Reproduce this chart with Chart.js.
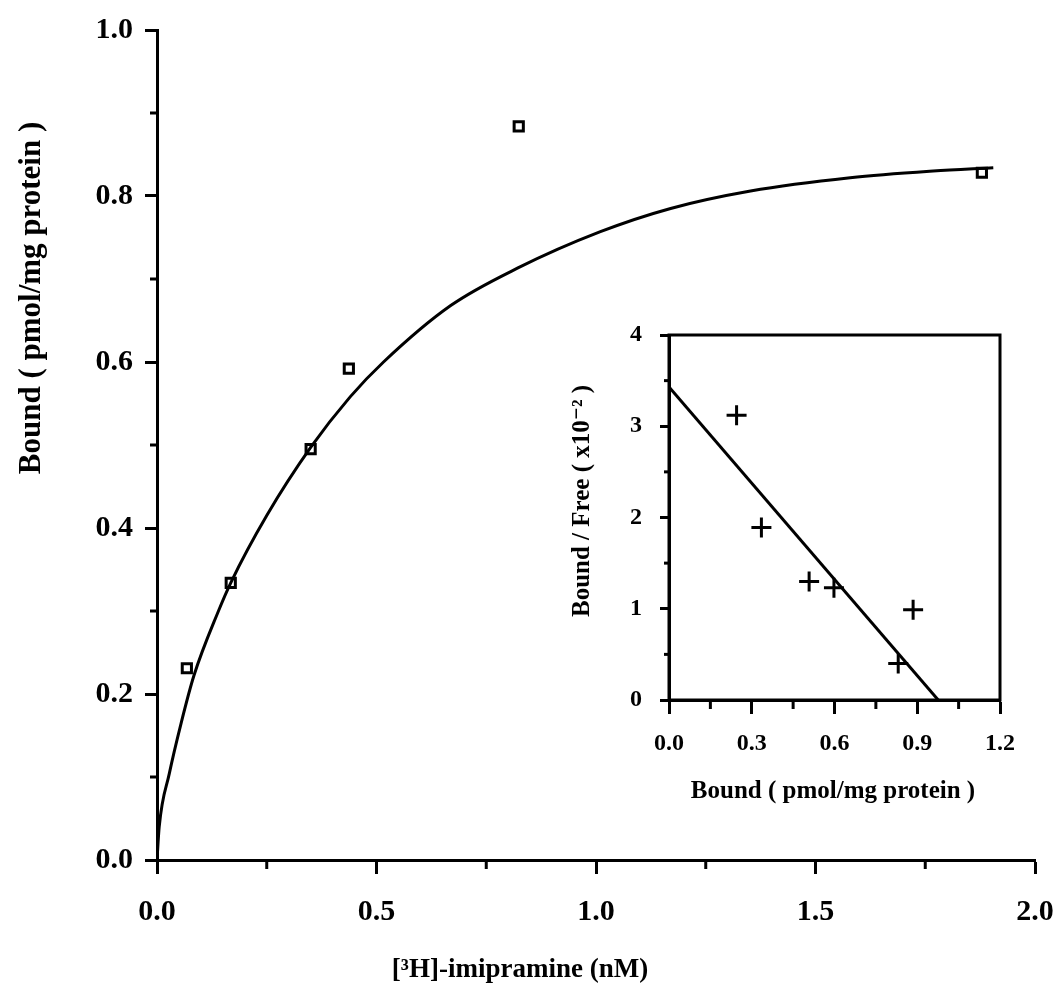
<!DOCTYPE html>
<html>
<head>
<meta charset="utf-8">
<script src="https://cdn.jsdelivr.net/npm/chart.js@4.4.0/dist/chart.umd.min.js"></script>
<style>
    html, body { margin: 0; padding: 0; background: #fff; overflow: hidden; }
    #wrap { position: relative; width: 1056px; height: 1002px; }
    #main-chart { position: absolute; left: 0; top: 0; }
    #inset-chart { position: absolute; left: 540px; top: 300px; }
</style>
</head>
<body>
<div id="wrap">
    <canvas id="main-chart" width="1090" height="1002"></canvas>
    <canvas id="inset-chart" width="500" height="520"></canvas>
</div>
<script>
// saturation binding: measured points
const bindX = [0.068, 0.168, 0.35, 0.437, 0.824, 1.879];
const bindY = [0.231, 0.334, 0.495, 0.592, 0.884, 0.828];

// fitted curve
const fitX = [0, 0.005, 0.028, 0.055, 0.084, 0.14, 0.168, 0.25, 0.35, 0.44, 0.516, 0.669, 0.821, 1.01, 1.17, 1.352, 1.579, 1.768, 1.905];
const fitY = [0, 0.04, 0.104, 0.165, 0.222, 0.3, 0.334, 0.415, 0.497, 0.558, 0.6, 0.668, 0.713, 0.757, 0.785, 0.806, 0.822, 0.83, 0.834];

// scatchard inset
const scatX = [0.245, 0.335, 0.508, 0.598, 0.831, 0.885];
const scatY = [3.12, 1.89, 1.3, 1.23, 0.4, 0.99];
const scatLineX = [0, 0.976];
const scatLineY = [3.43, 0];

// minor tick positions
const mainMinorX = [0.25, 0.75, 1.25, 1.75];
const mainMinorY = [0.1, 0.3, 0.5, 0.7, 0.9];
const insetMinorX = [0.15, 0.45, 0.75, 1.05];
const insetMinorY = [0.5, 1.5, 2.5, 3.5];

const serif = "'Liberation Serif', 'Times New Roman', 'DejaVu Serif', serif";
const toXY = (xs, ys) => xs.map((x, i) => ({ x: x, y: ys[i] }));

// short outward ticks between the labelled ones
const minorTicks = {
    id: "minorTicks",
    afterDraw(chart, args, opts) {
        const { ctx, chartArea } = chart;
        const xs = chart.scales.x;
        const ys = chart.scales.y;
        ctx.save();
        ctx.strokeStyle = "#000";
        ctx.lineWidth = opts.width;
        opts.x.forEach((v) => {
            const px = xs.getPixelForValue(v);
            ctx.beginPath();
            ctx.moveTo(px, chartArea.bottom);
            ctx.lineTo(px, chartArea.bottom + opts.lenX);
            ctx.stroke();
        });
        opts.y.forEach((v) => {
            const py = ys.getPixelForValue(v);
            ctx.beginPath();
            ctx.moveTo(chartArea.left, py);
            ctx.lineTo(chartArea.left - opts.lenY, py);
            ctx.stroke();
        });
        if (opts.frame) {
            ctx.lineWidth = 3;
            ctx.strokeRect(chartArea.left, chartArea.top, chartArea.right - chartArea.left, chartArea.bottom - chartArea.top);
        }
        ctx.restore();
    },
};

// axis titles placed where they sit in the figure
const axisText = {
    id: "axisText",
    afterDraw(chart, args, opts) {
        const ctx = chart.ctx;
        opts.items.forEach((t) => {
            ctx.save();
            ctx.translate(t.x, t.y);
            ctx.rotate(t.rotate || 0);
            ctx.font = t.font;
            ctx.fillStyle = "#000";
            ctx.textAlign = "center";
            ctx.textBaseline = "middle";
            ctx.fillText(t.text, 0, 0);
            ctx.restore();
        });
    },
};

const axisCommon = (size, tickLen) => ({
    border: { display: true, color: "#000", width: 3 },
    grid: {
        drawOnChartArea: false,
        drawTicks: true,
        tickLength: tickLen,
        tickWidth: 3,
        tickColor: "#000",
    },
    ticks: {
        color: "#000",
        font: { family: serif, size: size, weight: "bold" },
        maxRotation: 0,
    },
});

// main chart
const mainCtx = document.getElementById("main-chart");
const mainX = axisCommon(30, 14);
mainX.min = 0;
mainX.max = 2;
mainX.ticks.stepSize = 0.5;
mainX.ticks.padding = 20;
mainX.ticks.callback = (v) => v.toFixed(1);
mainX.afterFit = (scale) => { scale.height = 142; };

const mainY = axisCommon(30, 12);
mainY.min = 0;
mainY.max = 1;
mainY.ticks.stepSize = 0.2;
mainY.ticks.padding = 12;
mainY.ticks.callback = (v) => v.toFixed(1);
mainY.afterFit = (scale) => { scale.width = 157; };

new Chart(mainCtx, {
    type: "scatter",
    data: {
        datasets: [
            {
                label: "fit",
                data: toXY(fitX, fitY),
                showLine: true,
                borderColor: "#000",
                borderWidth: 3,
                pointRadius: 0,
                cubicInterpolationMode: "monotone",
                fill: false,
            },
            {
                label: "bound",
                data: toXY(bindX, bindY),
                pointStyle: "rect",
                pointRadius: 6.5,
                pointBorderWidth: 3,
                borderColor: "#000",
                backgroundColor: "#fff",
            },
        ],
    },
    options: {
        responsive: false,
        animation: false,
        layout: { padding: { top: 25, right: 55, bottom: 0, left: 0 } },
        plugins: {
            legend: { display: false },
            tooltip: { enabled: false },
            minorTicks: { x: mainMinorX, y: mainMinorY, lenX: 9, lenY: 7, width: 3, frame: false },
            axisText: {
                items: [
                    { text: "[³H]-imipramine (nM)", x: 520, y: 970, font: "bold 27px " + serif },
                    { text: "Bound ( pmol/mg protein )", x: 32, y: 298, rotate: -Math.PI / 2, font: "bold 31px " + serif },
                ],
            },
        },
        scales: { x: mainX, y: mainY },
    },
    plugins: [minorTicks, axisText],
});

// scatchard inset
const insetCtx = document.getElementById("inset-chart");
const insetX = axisCommon(24, 14);
insetX.min = 0;
insetX.max = 1.2;
insetX.ticks.stepSize = 0.3;
insetX.ticks.padding = 15;
insetX.ticks.callback = (v) => v.toFixed(1);
insetX.afterFit = (scale) => { scale.height = 120; };

const insetY = axisCommon(24, 9);
insetY.min = 0;
insetY.max = 4;
insetY.ticks.stepSize = 1;
insetY.ticks.padding = 18;
insetY.afterFit = (scale) => { scale.width = 129; };

new Chart(insetCtx, {
    type: "scatter",
    data: {
        datasets: [
            {
                label: "line",
                data: toXY(scatLineX, scatLineY),
                showLine: true,
                borderColor: "#000",
                borderWidth: 3,
                pointRadius: 0,
                fill: false,
            },
            {
                label: "scatchard",
                data: toXY(scatX, scatY),
                pointStyle: "cross",
                pointRadius: 10,
                pointBorderWidth: 3,
                borderColor: "#000",
            },
        ],
    },
    options: {
        responsive: false,
        animation: false,
        layout: { padding: { top: 35, right: 40, bottom: 0, left: 0 } },
        plugins: {
            legend: { display: false },
            tooltip: { enabled: false },
            minorTicks: { x: insetMinorX, y: insetMinorY, lenX: 9, lenY: 5, width: 3, frame: true },
            axisText: {
                items: [
                    { text: "Bound ( pmol/mg protein )", x: 293, y: 492, font: "bold 25px " + serif },
                    { text: "Bound / Free ( x10⁻² )", x: 43, y: 201, rotate: -Math.PI / 2, font: "bold 25px " + serif },
                ],
            },
        },
        scales: { x: insetX, y: insetY },
    },
    plugins: [minorTicks, axisText],
});
</script>
</body>
</html>
